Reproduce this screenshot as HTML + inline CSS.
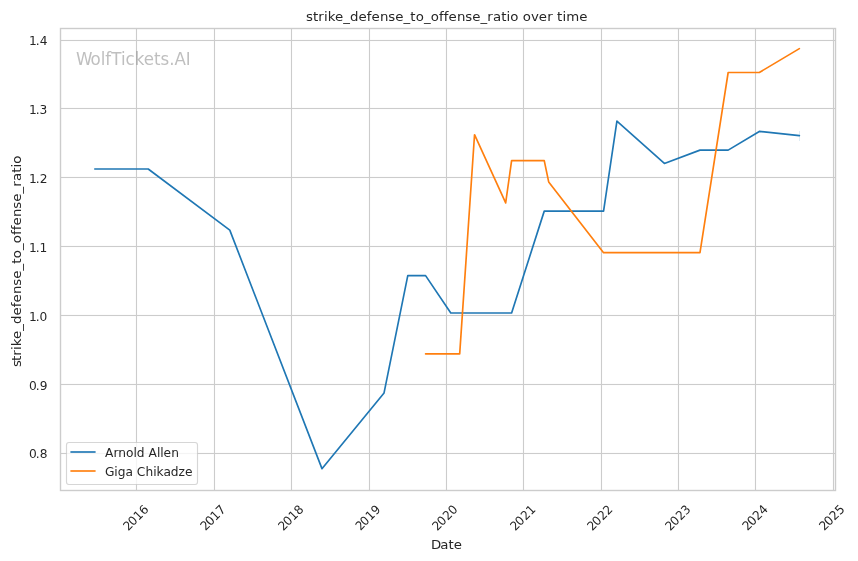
<!DOCTYPE html>
<html lang="en"><head><meta charset="utf-8"><title>strike_defense_to_offense_ratio over time</title>
<style>html,body{margin:0;padding:0;background:#fff;overflow:hidden}svg{display:block;font-family:"DejaVu Sans","Liberation Sans",sans-serif}</style>
</head><body>
<svg xmlns="http://www.w3.org/2000/svg" width="858" height="561" viewBox="0 0 858 561">
<rect width="858" height="561" fill="#fff"/>
<g fill="#ccc">
<rect x="135.94" y="28.5" width="1.111" height="462"/>
<rect x="213.94" y="28.5" width="1.111" height="462"/>
<rect x="290.94" y="28.5" width="1.111" height="462"/>
<rect x="368.94" y="28.5" width="1.111" height="462"/>
<rect x="445.94" y="28.5" width="1.111" height="462"/>
<rect x="522.94" y="28.5" width="1.111" height="462"/>
<rect x="600.94" y="28.5" width="1.111" height="462"/>
<rect x="677.94" y="28.5" width="1.111" height="462"/>
<rect x="754.94" y="28.5" width="1.111" height="462"/>
<rect x="832.94" y="28.5" width="1.111" height="462"/>
<rect x="60.5" y="39.94" width="775" height="1.111"/>
<rect x="60.5" y="107.94" width="775" height="1.111"/>
<rect x="60.5" y="176.94" width="775" height="1.111"/>
<rect x="60.5" y="245.94" width="775" height="1.111"/>
<rect x="60.5" y="314.94" width="775" height="1.111"/>
<rect x="60.5" y="383.94" width="775" height="1.111"/>
<rect x="60.5" y="452.94" width="775" height="1.111"/>
</g>
<g fill="none" stroke-width="1.667" stroke-linecap="round" stroke-linejoin="round">
<line x1="799.5" y1="131" x2="799.5" y2="141" stroke="#1f77b4" stroke-opacity="0.14" stroke-width="1" stroke-linecap="butt"/>
<polyline stroke="#1f77b4" points="94.81,169 148.21,169 229.79,230.1251 321.96,468.6546 384.05,392.9169 407.78,275.625 425.58,275.625 450.79,313 511.61,313 544.24,211.125 603.57,211.125 616.92,121.1882 664.38,163.4382 699.98,150.125 728.16,150.125 759.31,131.4275 799.36,135.5472"/>
<polyline stroke="#ff7f0e" points="425.58,353.875 459.69,353.875 474.53,134.7202 505.67,202.8841 511.61,160.6875 544.24,160.6875 548.69,181.9169 603.57,252.6875 699.98,252.6875 728.16,72.5 759.31,72.5 799.36,48.6546"/>
</g>
<rect x="60.5" y="28.5" width="775" height="462" fill="none" stroke="#ccc" stroke-width="1.389"/>
<text transform="translate(127.88 531.55) rotate(-45) scale(0.98 1)" font-size="12.222" fill="#262626" x="0.51 7.24 15.24 23.25" y="0">2016</text>
<text transform="translate(204.88 531.85) rotate(-45) scale(1 1.03)" font-size="12.222" fill="#262626" x="0.75 7.75 15 22.75" y="0">2017</text>
<text transform="translate(282.97 531.55) rotate(-45) scale(0.98 1)" font-size="12.222" fill="#262626" x="0.51 7.24 15.24 23.25" y="0">2018</text>
<text transform="translate(360.11 531.4) rotate(-45) scale(0.96 1)" font-size="12.222" fill="#262626" text-rendering="geometricPrecision" x="0.52 7.23 15.24 23.25" y="0">2019</text>
<text transform="translate(436.91 531.55) rotate(-45) scale(0.98 1)" font-size="12.222" fill="#262626" x="0.51 7.24 15.5 23.25" y="0">2020</text>
<text transform="translate(514.91 531.55) rotate(-45) scale(0.98 1)" font-size="12.222" fill="#262626" x="0.51 7.24 15.5 23.25" y="0">2021</text>
<text transform="translate(591.95 531.55) rotate(-45) scale(0.98 1)" font-size="12.222" fill="#262626" x="0.51 7.24 15.5 23.25" y="0">2022</text>
<text transform="translate(669.89 531.55) rotate(-45) scale(0.98 1)" font-size="12.222" fill="#262626" x="0.51 7.24 15.5 23.25" y="0">2023</text>
<text transform="translate(746.88 531.85) rotate(-45) scale(1 1.03)" font-size="12.222" fill="#262626" x="0.75 7.75 15.5 23.25" y="0">2024</text>
<text transform="translate(823.63 531.85) rotate(-45) scale(1 1.02)" font-size="12.222" fill="#262626" x="0.75 7.75 15.5 23.25" y="0">2025</text>
<text transform="translate(47.92 457.97) scale(1 0.97)" font-size="12.222" fill="#262626" x="-19 -12.25 -8.12" y="0">0.8</text>
<text transform="translate(47.82 390.02) scale(1 0.95)" font-size="12.222" fill="#262626" x="-18.88 -12.12 -8" y="0">0.9</text>
<text transform="translate(47.57 321.02) scale(1 0.95)" font-size="12.222" fill="#262626" x="-18.62 -11.88 -8" y="0">1.0</text>
<text transform="translate(47.57 252.01) scale(1 0.97)" font-size="12.222" fill="#262626" x="-18.62 -11.88 -8" y="0">1.1</text>
<text transform="translate(47.82 183.01) scale(1 1.02)" font-size="12.222" fill="#262626" x="-18.88 -12.12 -8" y="0">1.2</text>
<text transform="translate(47.57 114.01) scale(1 0.95)" font-size="12.222" fill="#262626" x="-18.62 -11.88 -8" y="0">1.3</text>
<text transform="translate(47.57 45.01) scale(1 0.95)" font-size="12.222" fill="#262626" x="-18.62 -11.88 -7.75" y="0">1.4</text>
<text transform="translate(446.5 548.99) scale(1 0.97)" font-size="13.333" fill="#262626" x="-15.56 -6.31 1.94 7.31" y="0">Date</text>
<text transform="translate(20.98 261.66) rotate(-90) scale(1 0.93)" font-size="13.333" fill="#262626" x="-105.25 -99.38 -94 -88.38 -84.62 -77.25 -69 -62.25 -53.75 -45.5 -40.88 -32.38 -24.12 -17 -8.75 -2 3.38 11.62 18.38 26.62 31.5 36.12 44.62 52.88 60 68.25 75 80.62 88.88 94.25 98" y="0">strike_defense_to_offense_ratio</text>
<text transform="translate(446.8 20.98) scale(1 0.93)" font-size="13.333" fill="#262626" x="-140.75 -133.88 -128.5 -122.88 -119.12 -111.75 -103.5 -96.75 -88.25 -80 -75.38 -66.88 -58.62 -51.5 -43.25 -36.5 -31.12 -22.88 -16.12 -7.88 -3 1.62 10.12 18.38 25.5 33.75 40.5 46.12 54.38 59.75 63.5 71.75 76 84.25 91.88 100.38 106 110.25 115.62 119.38 132.5" y="0">strike_defense_to_offense_ratio over time</text>
<text transform="translate(75.2 64.98) scale(1 1.06)" font-size="16.667" fill="#808080" fill-opacity="0.5" x="0.75 15.25 25.62 30 36.12 45.88 50.25 59.62 68.5 78.75 85.25 94 99.25 110.62" y="0">WolfTickets.AI</text>
<rect x="66.5" y="442.5" width="131" height="42" rx="2.44" fill="#fff" stroke="#ccc" stroke-width="1.111" opacity="0.8"/>
<g stroke-width="2" stroke-opacity="0.833"><line x1="70.4" y1="452" x2="95.6" y2="452" stroke="#1f77b4"/><line x1="70.4" y1="471" x2="95.6" y2="471" stroke="#ff7f0e"/></g>
<text transform="translate(104.94 456.98)" font-size="12.222" fill="#262626" x="0 8.62 13.25 21 28.5 31.88 39.62 43.5 52.12 55.25 58.62 66.38" y="0">Arnold Allen</text>
<text transform="translate(104.94 475.97)" font-size="12.222" fill="#262626" x="0 9.38 12.75 20.5 28 31.88 40.62 48.38 51.5 58.62 65.88 73.62 80" y="0">Giga Chikadze</text>
</svg>
</body></html>
